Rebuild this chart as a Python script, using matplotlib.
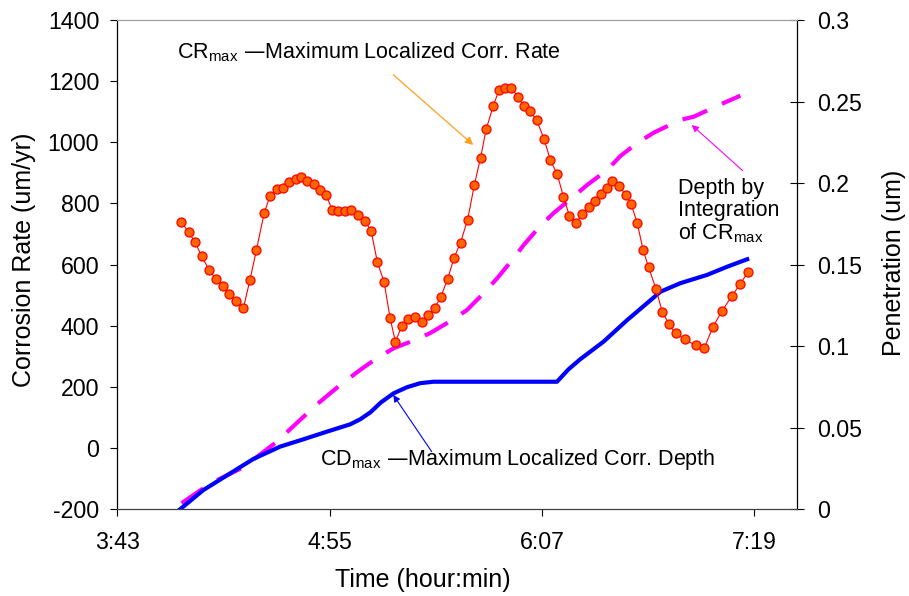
import matplotlib
matplotlib.use('Agg')
import matplotlib.pyplot as plt

plt.rcParams['font.family'] = ['Liberation Sans', 'DejaVu Sans']
plt.rcParams['mathtext.default'] = 'regular'
plt.rcParams['axes.unicode_minus'] = False

# time in minutes since midnight
cr_time = [244.9, 247.4, 249.5, 251.8, 254.3, 256.6, 259.0, 261.2, 263.6, 266.0,
           268.2, 270.4, 273.0, 275.0, 277.2, 279.4, 281.6, 283.7, 285.6, 287.7,
           289.8, 291.9, 294.0, 296.1, 298.1, 300.4, 302.6, 304.9, 307.2, 309.3,
           311.4, 313.7, 315.7, 317.5, 319.7, 321.8, 324.1, 326.4, 328.7, 330.9,
           332.9, 335.2, 337.4, 339.6, 342.0, 344.3, 346.4, 348.3, 350.7, 352.6,
           354.7, 356.8, 359.1, 361.0, 363.1, 365.4, 367.9, 370.1, 372.4, 374.5,
           376.5, 378.9, 380.9, 383.2, 385.1, 387.1, 389.1, 391.1, 393.5, 395.7,
           397.4, 399.5, 401.5, 403.4, 405.9, 408.0, 410.3, 412.5, 415.6, 419.3,
           422.2, 425.2, 428.3, 431.6, 434.5, 437.1]
cr_rate = [740, 706, 675, 628, 583, 554, 531, 504, 480, 459,
           550, 648, 768, 824, 846, 852, 869, 880, 887, 875,
           864, 843, 828, 779, 774, 774, 779, 762, 743, 709,
           608, 542, 426, 348, 399, 421, 430, 411, 434, 459,
           494, 552, 622, 672, 747, 861, 950, 1043, 1119, 1170,
           1179, 1179, 1148, 1119, 1101, 1073, 1011, 941, 895, 822,
           760, 737, 766, 788, 809, 832, 851, 872, 856, 827,
           799, 737, 648, 591, 519, 446, 405, 375, 356, 336,
           326, 397, 449, 497, 538, 576]

integ_time = [245.0, 252.4, 258.0, 265.9, 277.3, 285.2, 292.0, 298.8, 305.6, 311.2,
              316.9, 323.6, 329.3, 337.2, 341.8, 347.4, 352.0, 357.6, 361.0, 366.6,
              371.1, 377.4, 382.5, 389.3, 393.8, 399.4, 405.1, 414.1, 418.7, 426.6,
              434.5]
integ_depth = [0.0037, 0.0129, 0.0187, 0.0257, 0.0414, 0.0548, 0.0660, 0.0762, 0.0855, 0.0926,
               0.0987, 0.1034, 0.1080, 0.1165, 0.1222, 0.1324, 0.1416, 0.1539, 0.1620, 0.1737,
               0.1815, 0.1910, 0.1988, 0.2080, 0.2166, 0.2244, 0.2309, 0.2387, 0.2407, 0.2473,
               0.2536]

cd_time = [244.5, 252.4, 263.7, 269.3, 278.4, 286.3, 294.3, 302.2, 305.6, 309.0,
           312.6, 316.9, 321.4, 325.9, 330.4, 372.3, 376.2, 380.2, 388.1, 396.1,
           402.8, 407.4, 414.1, 423.2, 430.0, 436.8]
cd_depth = [0.0, 0.0118, 0.0245, 0.0308, 0.0384, 0.0429, 0.0476, 0.0521, 0.0552, 0.0594,
            0.0655, 0.0711, 0.0748, 0.0773, 0.0782, 0.0782, 0.0858, 0.0920, 0.1028, 0.1160,
            0.1263, 0.1334, 0.1386, 0.1437, 0.1487, 0.1533]

x_ticks = [223.2, 295.2, 367.2, 439.2]
x_labels = ['3:43', '4:55', '6:07', '7:19']
left_ticks = [-200, 0, 200, 400, 600, 800, 1000, 1200, 1400]
right_ticks = [0, 0.05, 0.1, 0.15, 0.2, 0.25, 0.3]
right_labels = ['0', '0.05', '0.1', '0.15', '0.2', '0.25', '0.3']

FS = 16.7      # tick labels
FS_LAB = 18    # axis titles
FS_ANN = 15.5  # annotations

fig = plt.figure(figsize=(9.09, 5.96), dpi=100)
ax = fig.add_axes([0.129, 0.1455, 0.7475, 0.821])
ax2 = ax.twinx()
ax.set_zorder(ax2.get_zorder() + 1)
ax.patch.set_visible(False)

ax2.plot(integ_time, integ_depth, color='#FF00FF', lw=3, dashes=(6.3, 3.9),
         dash_capstyle='butt')
ax2.plot(cd_time, cd_depth, color='#0000FF', lw=3)
ax.plot(cr_time, cr_rate, color='#FF0000', lw=0.8, marker='o', ms=6.5,
        mfc='#FF6600', mec='#FF0000', mew=0.9)

ax.set_xlim(223.2, 453.6)
ax.set_ylim(-200, 1400)
ax2.set_ylim(0, 0.3)
ax.set_xticks(x_ticks)
ax.set_xticklabels(x_labels)
ax.set_yticks(left_ticks)
ax2.set_yticks(right_ticks)
ax2.set_yticklabels(right_labels)

ax.tick_params(axis='y', direction='out', length=5, width=0.8, labelsize=FS, pad=8)
ax.tick_params(axis='x', direction='out', length=5.3, width=0.8, labelsize=FS, pad=10)
ax2.tick_params(axis='y', direction='inout', length=10.5, width=0.8, labelsize=FS, pad=9.5)

for a in (ax, ax2):
    for s in a.spines.values():
        s.set_visible(False)
ax.spines['left'].set_visible(True)
ax.spines['left'].set_color('black')
ax.spines['bottom'].set_visible(True)
ax.spines['bottom'].set_color('#404040')
ax.spines['top'].set_visible(True)
ax.spines['top'].set_color('#a0a0a0')
ax2.spines['right'].set_visible(True)
ax2.spines['right'].set_color('black')
for s in ('left', 'bottom', 'top'):
    ax.spines[s].set_linewidth(0.9)
ax2.spines['right'].set_linewidth(0.9)

# annotations
ax.text(0.0874, 0.935, r'CR$_{max}$ —Maximum Localized Corr. Rate', transform=ax.transAxes,
        ha='left', va='center', fontsize=FS_ANN)
ax.annotate('', xy=(0.524, 0.7445), xycoords='axes fraction', xytext=(0.4062, 0.888),
            textcoords='axes fraction',
            arrowprops=dict(arrowstyle='-|>', color='#FFA020', lw=0.9, mutation_scale=12,
                            shrinkA=0, shrinkB=0))
ax.text(0.2984, 0.1022, r'CD$_{max}$ —Maximum Localized Corr. Depth', transform=ax.transAxes,
        ha='left', va='center', fontsize=FS_ANN)
ax.annotate('', xy=(0.4062, 0.2336), xycoords='axes fraction', xytext=(0.4628, 0.1177),
            textcoords='axes fraction',
            arrowprops=dict(arrowstyle='-|>', color='#0000FF', lw=0.8, mutation_scale=10,
                            shrinkA=0, shrinkB=0))
ax.text(0.8257, 0.608, 'Depth by\nIntegration\nof CR$_{max}$', transform=ax.transAxes,
        ha='left', va='center', fontsize=FS_ANN, linespacing=1.05)
ax.annotate('', xy=(0.8455, 0.7854), xycoords='axes fraction', xytext=(0.9205, 0.692),
            textcoords='axes fraction',
            arrowprops=dict(arrowstyle='-|>', color='#FF00FF', lw=0.8, mutation_scale=10,
                            shrinkA=0, shrinkB=0))

fig.text(423 / 909, 1 - 580 / 596, 'Time (hour:min)', ha='center', va='center', fontsize=FS_LAB)
fig.text(24 / 909, 1 - 260 / 596, 'Corrosion Rate (um/yr)', ha='center', va='center',
         rotation=90, fontsize=FS_LAB)
fig.text(894 / 909, 1 - 263 / 596, 'Penetration (um)', ha='center', va='center',
         rotation=90, fontsize=FS_LAB)

fig.savefig('out.png', dpi=100)
